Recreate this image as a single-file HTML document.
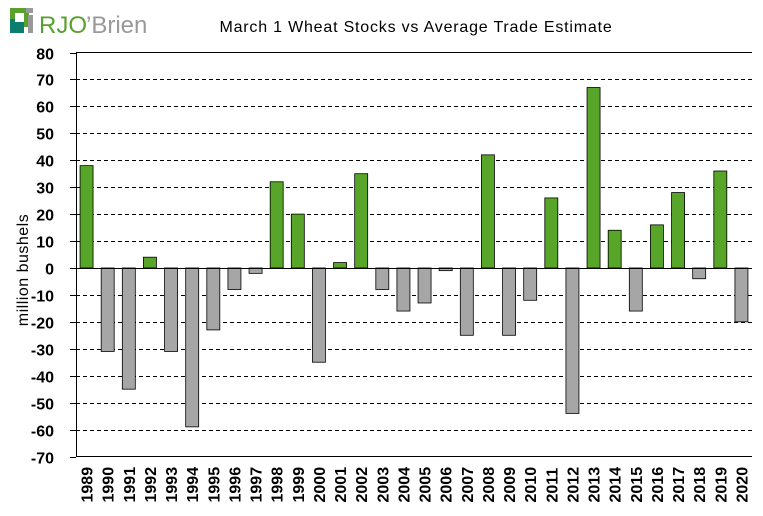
<!DOCTYPE html>
<html><head><meta charset="utf-8"><style>
body{margin:0;background:#fff;}
svg{display:block;font-family:"Liberation Sans",Arial,sans-serif;}
</style></head><body>
<svg id="chart" width="763" height="516">
<g>
<rect x="10" y="8" width="19" height="19" fill="#5aa02c"/>
<rect x="10" y="19" width="14" height="14" fill="#0a7f6f"/>
<rect x="15" y="13" width="9" height="9" fill="#fff"/>
<rect x="26" y="8" width="7" height="5" fill="#999"/>
<rect x="28" y="15" width="5" height="18" fill="#999"/>
<text x="39" y="33" font-size="24" fill="#5aa02c">RJO</text>
<text x="86" y="33" font-size="24" fill="#999">’Brien</text>
</g>
<text x="416" y="32" font-size="16" letter-spacing="0.8" text-anchor="middle" fill="#000">March 1 Wheat Stocks vs Average Trade Estimate</text>
<text transform="translate(28,270) rotate(-90)" font-size="16" letter-spacing="0.5" text-anchor="middle">million bushels</text>
<g id="grid"></g><g id="bars"></g><g id="axes"></g>
</svg>
<script>
const years=['1989','1990','1991','1992','1993','1994','1995','1996','1997','1998','1999','2000','2001','2002','2003','2004','2005','2006','2007','2008','2009','2010','2011','2012','2013','2014','2015','2016','2017','2018','2019','2020'];
const values=[38,-31,-45,4,-31,-59,-23,-8,-2,32,20,-35,2,35,-8,-16,-13,-1,-25,42,-25,-12,26,-54,67,14,-16,16,28,-4,36,-20];
const yTicks=[80,70,60,50,40,30,20,10,0,-10,-20,-30,-40,-50,-60,-70];
const NS='http://www.w3.org/2000/svg';
const L=76,R=752,T=52.5,B=456.5,yMax=80,yMin=-70;
const y=v=>T+(yMax-v)/(yMax-yMin)*(B-T);
const cw=(R-L)/years.length;
const x=i=>L+cw*(i+0.5);
function mk(t,a,p){const e=document.createElementNS(NS,t);for(const k in a)e.setAttribute(k,a[k]);p.appendChild(e);return e;}
const grid=document.getElementById('grid'),bars=document.getElementById('bars'),axes=document.getElementById('axes');
yTicks.forEach(v=>{
  const yy=Math.round(y(v))+0.5;
  if(v!==yMin&&v!==yMax){const g=mk('line',{x1:L,x2:R,y1:yy,y2:yy,stroke:'#000','stroke-width':1,'stroke-dasharray':'4,3'},grid);
  
  }
  const tk=mk('line',{x1:L-6,x2:L,y1:yy,y2:yy,stroke:'#000'},axes);
  
  
  const t=mk('text',{x:L-22,y:yy+6,'font-size':16,'font-weight':'bold','text-anchor':'end'},axes);
  t.textContent=v;
  
  
});
const topBorder=mk('line',{x1:L,x2:R,y1:T,y2:T,stroke:'#000'},axes);


values.forEach((v,i)=>{
  const y0=y(0),y1=y(v);
  const r=mk('rect',{x:x(i)-6.5,y:Math.min(y0,y1),width:13,height:Math.abs(y1-y0),fill:v>=0?'#57a629':'#a6a6a6',stroke:'#000','stroke-width':0.8},bars);
  
  
  const t=mk('text',{transform:`translate(${x(i)+6},${B+46}) rotate(-90)`,'font-size':16,'font-weight':'bold'},axes);
  t.textContent=years[i];
  
  
});
const ya=mk('line',{x1:L+0.5,x2:L+0.5,y1:T,y2:B,stroke:'#000'},axes);


const xa=mk('line',{x1:L,x2:R,y1:B,y2:B,stroke:'#000'},axes);


const z=mk('line',{x1:L,x2:R,y1:Math.round(y(0))+0.5,y2:Math.round(y(0))+0.5,stroke:'#000'},axes);


</script>
</body></html>
